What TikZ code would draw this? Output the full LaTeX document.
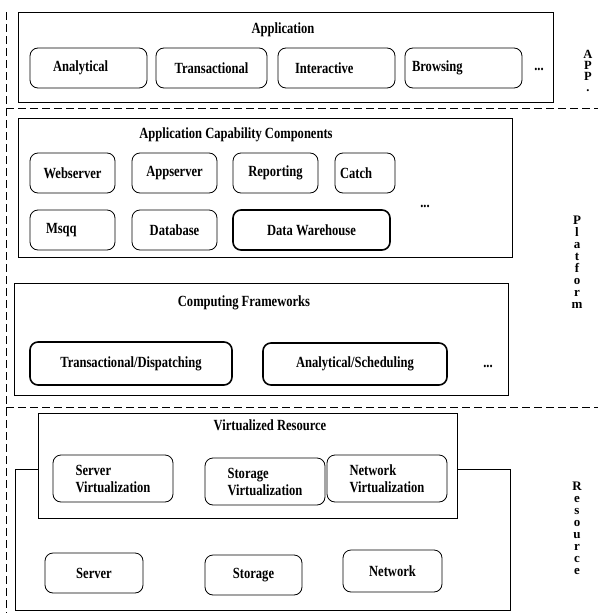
\documentclass[tikz,border=0pt]{standalone}
\usepackage{fontspec}
\setmainfont{Liberation Serif}[FakeStretch=0.81]
\newfontfamily\sidefont{Liberation Serif}
\begin{document}
\begin{tikzpicture}[x=1pt,y=-1pt,
    every node/.style={font=\bfseries\fontsize{15.5}{17}\selectfont},
    layer/.style={draw,line width=0.8pt},
    unit/.style={draw,rounded corners=8pt,line width=0.8pt,inner sep=0pt},
    heavy/.style={unit,line width=1.6pt},
    padl/.style 2 args={align=left,inner xsep=#1,text width=#2},
    sep/.style={dash pattern=on 8pt off 4pt,line width=0.8pt},
    side/.style={align=center,inner sep=0pt,font=\sidefont\bfseries\fontsize{13}{12}\selectfont}]
      \useasboundingbox (0,0) rectangle (598,613);
      % tier separators
      \draw[sep] (6,12) -- (6,613);
      \draw[sep] (6,108) -- (598,108);
      \draw[sep] (6,407) -- (598,407);
      % application tier
      \draw[layer] (18,12) rectangle (553,102);
      \node (apptitle) at (283,30) {Application};
      \node[unit,padl={23}{71},minimum height=40] (analytical) at (88.5,68) {Analytical};
      \node[unit,minimum width=111,minimum height=40] (transactional) at (211.5,68) {Transactional};
      \node[unit,padl={17}{83},minimum height=40] (interactive) at (336.5,68) {Interactive};
      \node[unit,padl={7}{103},minimum height=40] (browsing) at (463.5,68) {Browsing};
      \node (appmore) at (539,69) {...};
      \node[side,font=\sidefont\bfseries\fontsize{12.5}{11}\selectfont] (applabel) at (588,71) {A\\P\\P\\.};
      % platform tier
      \draw[layer] (18,118) rectangle (512,257);
      \node (acctitle) at (236,135) {Application Capability Components};
      \node[unit,minimum width=85,minimum height=40] (webserver) at (72.5,173) {Webserver};
      \node[unit,minimum width=85,minimum height=40] (appserver) at (174.5,173) {Appserver};
      \node[unit,minimum width=85,minimum height=40] (reporting) at (275.5,173) {Reporting};
      \node[unit,padl={5}{50},minimum height=40] (catch) at (365,173) {Catch};
      \node[unit,padl={16}{53},minimum height=40] (msqq) at (72.5,230) {Msqq};
      \node[unit,minimum width=85,minimum height=40] (database) at (174.5,230) {Database};
      \node[heavy,minimum width=157,minimum height=40] (warehouse) at (311.5,230) {Data Warehouse};
      \node (accmore) at (425,206) {...};
      \draw[layer] (14,283) rectangle (508,395);
      \node (cftitle) at (244,303) {Computing Frameworks};
      \node[heavy,minimum width=202,minimum height=43] (dispatching) at (131,363.5) {Transactional/Dispatching};
      \node[heavy,minimum width=184,minimum height=42] (scheduling) at (355,364) {Analytical/Scheduling};
      \node (cfmore) at (488,366) {...};
      \node[side] (platlabel) at (577,262) {P\\l\\a\\t\\f\\o\\r\\m};
      % resource tier
      \draw[layer] (15,469) rectangle (510,610);
      \draw[layer,fill=white] (38,413) rectangle (457,518);
      \node (vrtitle) at (270,425) {Virtualized Resource};
      \node[unit,align=left,minimum width=120,minimum height=47] (servervirt) at (113,478.5) {Server\\Virtualization};
      \node[unit,align=left,minimum width=120,minimum height=47] (storagevirt) at (265,481.5) {Storage\\Virtualization};
      \node[unit,align=left,minimum width=120,minimum height=47] (networkvirt) at (387,478.5) {Network\\Virtualization};
      \node[unit,minimum width=98,minimum height=40] (server) at (94,573) {Server};
      \node[unit,minimum width=97,minimum height=40] (storage) at (253.5,575) {Storage};
      \node[unit,minimum width=99,minimum height=42] (network) at (392.5,571) {Network};
      \node[side] (reslabel) at (577,528) {R\\e\\s\\o\\u\\r\\c\\e};
    \end{tikzpicture}
\end{document}
